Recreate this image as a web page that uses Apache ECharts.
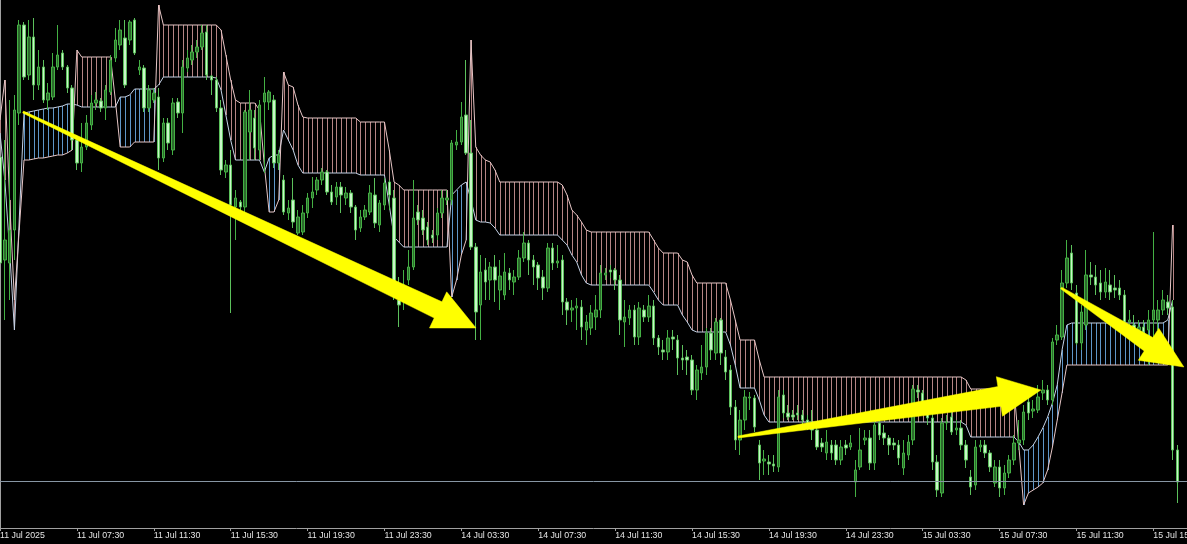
<!DOCTYPE html>
<html><head><meta charset="utf-8">
<script src="https://cdn.jsdelivr.net/npm/echarts@6/dist/echarts.min.js"></script>
<style>html,body{margin:0;padding:0;background:#000;overflow:hidden;}#c{width:1187px;height:544px;}</style>
</head><body><div id="c"></div>
<script>
// ---- tick labels (every 16 bars of 15 minutes = 4 hours) ----
const tickLabels = ['11 Jul 2025','11 Jul 07:30','11 Jul 11:30','11 Jul 15:30','11 Jul 19:30','11 Jul 23:30',
  '14 Jul 03:30','14 Jul 07:30','14 Jul 11:30','14 Jul 15:30','14 Jul 19:30','14 Jul 23:30',
  '15 Jul 03:30','15 Jul 07:30','15 Jul 11:30','15 Jul 15:30'];
const BARS_PER_TICK = 16;
const N_BARS = 248;

// ---- candles (price units) ----
const open = [
371,268,265,298,415,503,453,491,443,461,
428,431,461,475,461,440,388,365,381,403,
425,427,420,436,470,483,490,488,508,458,
460,420,428,431,370,405,378,426,415,460,
468,476,481,496,452,448,420,356,363,321,
326,321,396,410,378,426,426,428,365,348,
315,328,295,296,315,330,338,348,356,336,
331,341,330,335,321,300,311,316,333,303,
323,346,330,228,228,248,261,316,310,301,
293,293,315,328,328,383,386,413,375,281,
223,258,248,261,238,233,255,246,251,270,
285,268,263,251,240,280,265,268,226,218,
220,221,198,200,211,218,253,258,258,248,
206,210,218,191,218,211,222,190,178,176,
191,188,170,171,168,138,155,161,195,175,
208,171,158,121,88,108,130,130,83,67,
66,64,61,133,115,113,115,113,108,103,
98,85,75,83,83,68,83,81,46,61,
88,90,65,105,95,90,85,83,60,73,
88,138,135,125,110,66,35,105,111,98,
100,83,51,43,81,83,75,45,61,40,
55,68,85,88,126,117,118,135,138,128,
188,191,245,275,235,185,203,253,251,245,
236,243,240,240,233,206,203,198,201,198,
208,208,218,226,221,78];
const close = [
265,288,298,418,503,451,491,443,461,428,
435,461,473,461,440,388,365,381,405,425,
428,420,438,468,488,498,443,506,475,461,
420,438,435,370,405,385,425,415,461,470,
476,481,495,453,448,420,358,363,323,330,
321,416,418,380,423,435,436,365,373,316,
320,306,311,315,330,336,348,356,336,326,
341,333,335,321,298,311,318,335,305,325,
345,333,243,223,243,261,310,308,298,288,
290,315,330,330,385,386,411,375,281,216,
256,246,261,248,252,256,248,251,270,285,
268,261,250,240,280,265,267,226,218,220,
222,201,206,215,218,255,255,256,248,208,
211,218,191,220,211,222,190,181,176,190,
189,170,168,168,138,158,161,195,178,206,
175,156,121,88,108,131,131,101,65,69,
64,62,131,115,111,111,113,108,105,98,
81,81,86,75,68,81,80,85,58,78,
90,65,103,93,90,83,83,70,75,86,
139,136,125,110,66,38,105,106,96,100,
83,68,41,81,83,75,61,61,40,55,
68,85,88,116,115,119,131,138,128,186,
193,245,270,245,185,216,253,251,243,236,
246,236,238,233,206,208,198,201,196,208,
218,218,228,220,78,46];
const low = [
211,208,228,268,403,448,448,428,438,425,
418,428,458,458,435,378,358,356,378,398,
418,416,408,433,466,478,440,483,473,453,
416,416,425,358,366,378,373,410,395,456,
463,470,478,448,433,416,353,350,215,288,
316,313,368,368,368,355,418,360,358,313,
308,300,293,293,310,320,333,343,333,323,
323,315,323,315,288,296,308,313,300,296,
318,318,228,201,218,243,258,303,293,283,
285,288,310,323,323,378,383,373,278,188,
188,228,228,226,218,228,238,233,248,266,
253,243,238,228,236,258,260,213,203,206,
198,188,183,193,198,210,248,250,238,193,
181,203,183,183,206,206,183,173,168,168,
178,153,158,153,133,128,148,153,168,168,
163,148,113,78,73,98,118,96,48,53,
53,56,56,110,108,108,108,103,98,88,
78,76,68,68,63,63,73,78,31,58,
83,58,58,88,83,73,78,63,53,68,
83,130,118,103,58,31,31,98,93,93,
78,60,33,38,76,70,56,41,31,33,
50,63,78,83,108,110,115,128,123,123,
183,188,240,238,183,178,198,243,233,228,
230,228,230,228,198,198,188,183,188,163,
188,198,213,213,68,25];
const high = [
398,388,428,433,508,506,508,510,478,468,
445,475,503,478,463,443,393,405,413,433,
436,430,443,473,500,508,508,508,510,468,
463,443,440,440,410,410,430,430,468,478,
483,488,503,503,453,451,428,368,378,338,
328,418,438,418,428,451,438,433,378,353,
328,350,318,323,335,351,351,360,358,343,
346,346,341,338,323,318,323,343,350,328,
350,348,338,251,258,278,348,323,318,306,
298,320,338,338,388,398,426,468,408,285,
273,270,266,273,268,275,260,258,278,296,
288,273,266,258,285,285,283,273,230,228,
230,228,213,223,233,263,260,263,260,253,
228,223,223,226,223,233,228,193,188,198,
198,193,183,178,173,163,183,200,200,210,
210,178,163,128,118,138,136,133,88,78,
73,73,138,138,123,118,123,118,113,118,
103,90,98,88,88,88,88,93,68,100,
98,98,108,108,103,93,90,88,88,93,
143,143,138,128,118,73,110,113,116,108,
108,88,58,88,88,88,78,68,68,63,
73,93,108,123,130,128,143,148,143,190,
203,258,288,283,243,223,278,266,263,258,
260,258,253,248,238,218,213,208,208,218,
296,228,238,233,228,83];

// ---- Ichimoku cloud: Senkou span A and span B ----
const spanA = [
395,348,278,198,308,415,416,417,418,419,
420,420,421,422,424,424,423,421,421,421,
421,421,421,421,421,431,431,433,439,439,
439,439,439,443,451,451,451,451,451,451,
451,451,451,451,451,450,438,413,388,368,
368,368,368,368,368,356,370,373,373,398,
388,378,363,355,355,355,355,355,355,355,
355,355,355,355,355,353,353,353,353,353,
353,323,291,286,281,281,281,281,281,281,
281,281,281,281,333,338,343,346,328,308,
306,306,305,300,293,293,293,293,293,293,
293,293,293,293,293,293,293,288,283,273,
266,253,245,243,243,243,243,243,243,243,
243,243,243,243,243,243,236,228,223,223,
223,223,213,206,198,196,196,196,196,196,
196,196,183,163,140,140,140,140,128,113,
106,106,106,106,106,106,106,106,106,106,
106,106,106,106,106,106,106,106,106,106,
106,106,106,106,106,106,106,106,106,106,
106,106,106,106,106,106,106,106,106,106,
106,103,91,91,91,91,91,91,91,91,
91,91,86,78,78,83,91,100,111,125,
143,178,203,205,205,205,205,205,205,205,
205,205,205,205,205,205,205,205,205,205,
205,205,205,208,228];
const spanB = [
408,448,328,228,298,368,368,369,370,370,
371,372,373,373,375,378,478,471,471,471,
471,471,471,471,428,381,381,381,386,386,
386,386,386,523,503,503,503,503,503,503,
503,503,503,503,503,503,498,473,448,428,
425,425,425,425,418,363,316,316,328,456,
443,441,423,411,410,410,410,410,410,410,
410,410,410,410,410,406,406,406,406,406,
406,378,346,343,338,338,338,338,338,338,
338,338,338,338,231,248,273,288,488,381,
373,368,366,358,346,346,346,346,346,346,
346,346,346,346,346,346,346,343,333,318,
313,306,298,296,296,296,296,296,296,296,
296,296,296,296,296,296,288,280,275,275,
275,275,268,266,253,245,245,245,245,245,
245,245,228,208,188,188,188,188,168,151,
151,151,151,151,151,151,151,151,151,151,
151,151,151,151,151,151,151,151,151,151,
151,151,151,151,151,151,151,151,151,151,
151,151,151,151,151,151,151,151,151,151,
151,148,139,139,139,139,139,139,139,139,
139,139,83,23,35,38,41,45,58,81,
108,135,163,163,163,163,163,163,163,163,
163,163,163,163,163,163,163,163,163,163,
163,163,163,163,303];

// ---- reference price line ----
const priceLine = 47;

// ---- arrows drawn on the chart: [bar index, price] ----
const arrowFrom = [[4.8,416],[153.6,91],[220.8,240]];
const arrowTo   = [[99.05,200],[216.6,138],[246.35,161]];
// shape in pixels: tail half width, shaft half width, head half width, head length
const ARROW_SHAPE = [[1,9,20,42],[1,10,20,42],[1,8,19,42]];

// ---- categories (15 minute bars, weekend skipped) ----
const MON = ['Jan','Feb','Mar','Apr','May','Jun','Jul','Aug','Sep','Oct','Nov','Dec'];
const categories = [];
let t = Date.UTC(2025, 6, 11, 3, 30);
while (categories.length < N_BARS) {
  const d = new Date(t);
  const wd = d.getUTCDay();
  if (wd !== 0 && wd !== 6) {
    const p = n => String(n).padStart(2,'0');
    categories.push(d.getUTCDate()+' '+MON[d.getUTCMonth()]+' '+p(d.getUTCHours())+':'+p(d.getUTCMinutes()));
  }
  t += 15*60000;
}

const candleData = open.map((o,i)=>[o, close[i], low[i], high[i]]);
const cloudData = spanA.map((a,i)=>[i, a, spanB[i]]);

const BLUE = '#5f96c8', PINK = '#b58585';

function lerpPx(api, x, v){
  const i0 = Math.floor(x), f = x - i0;
  const p0 = api.coord([i0, v]), p1 = api.coord([i0+1, v]);
  return [p0[0] + (p1[0]-p0[0])*f, p0[1]];
}

const chart = echarts.init(document.getElementById('c'), null, {renderer:'canvas'});
chart.setOption({
  backgroundColor:'#000000',
  animation:false,
  grid:{left:0,right:0,top:0,bottom:16,containLabel:false,outerBoundsMode:'none'},
  xAxis:{
    type:'category', data:categories, boundaryGap:false,
    axisLine:{lineStyle:{color:'#a0a0a0',width:1}},
    axisTick:{show:true,length:3,interval:(i)=>i%BARS_PER_TICK===0,lineStyle:{color:'#a0a0a0'}},
    axisLabel:{show:true,interval:(i)=>i%BARS_PER_TICK===0,align:'left',margin:3,color:'#e4e4e4',
      fontFamily:'"Liberation Sans", Arial, sans-serif',fontSize:8.8,
      hideOverlap:false,
      formatter:(v,i)=>tickLabels[Math.round(i/BARS_PER_TICK)] || ''},
    splitLine:{show:false}
  },
  yAxis:{
    type:'value', min:0, max:528, position:'left',
    axisLine:{show:true,lineStyle:{color:'#a0a0a0'}},
    axisTick:{show:false}, axisLabel:{show:false}, splitLine:{show:false}
  },
  series:[
    {
      type:'custom', name:'cloud', z:1, silent:true,
      data:cloudData,
      encode:{x:0,y:[1,2]},
      renderItem:(params, api)=>{
        const i = api.value(0), a = api.value(1), b = api.value(2);
        const p1 = api.coord([i, a]), p2 = api.coord([i, b]);
        const x = Math.round(p1[0]) + 0.5;
        return {type:'line', shape:{x1:x,y1:p1[1],x2:x,y2:p2[1]},
          style:{stroke: a>=b ? BLUE : PINK, lineWidth:1}};
      }
    },
    {type:'line', name:'Senkou A', data:spanA, z:2, showSymbol:false, silent:true,
      lineStyle:{color:'#c4d2e6',width:1}},
    {type:'line', name:'Senkou B', data:spanB, z:2, showSymbol:false, silent:true,
      lineStyle:{color:'#e6c6c6',width:1}},
    {
      type:'candlestick', name:'price', data:candleData, z:3, barWidth:3,
      itemStyle:{color:'#2c6a2c', color0:'#c8f6c8', borderColor:'#44b044', borderColor0:'#5cc05c', borderWidth:1},
      markLine:{silent:true, symbol:['none','none'], label:{show:false},
        lineStyle:{color:'#8796a4',width:1,type:'solid'},
        data:[{yAxis:priceLine}]}
    },
    {
      type:'custom', name:'arrows', z:10, silent:true,
      data:arrowFrom.map((f,k)=>[Math.round(f[0]), f[1]]),
      encode:{x:0,y:1},
      renderItem:(params, api)=>{
        const k = params.dataIndex;
        const s = lerpPx(api, arrowFrom[k][0], arrowFrom[k][1]);
        const e = lerpPx(api, arrowTo[k][0], arrowTo[k][1]);
        const [tw, sw, hw, hl] = ARROW_SHAPE[k];
        const dx = e[0]-s[0], dy = e[1]-s[1], len = Math.hypot(dx,dy);
        const ux = dx/len, uy = dy/len, nx = -uy, ny = ux;
        const bx = e[0]-ux*hl, by = e[1]-uy*hl;
        const pts = [
          [s[0]+nx*tw, s[1]+ny*tw],
          [bx+nx*sw, by+ny*sw],
          [bx+nx*hw, by+ny*hw],
          [e[0], e[1]],
          [bx-nx*hw, by-ny*hw],
          [bx-nx*sw, by-ny*sw],
          [s[0]-nx*tw, s[1]-ny*tw]
        ];
        return {type:'polygon', shape:{points:pts}, style:{fill:'#ffff00', stroke:'#ffff00', lineWidth:0.5}};
      }
    }
  ]
});
</script>
</body></html>
